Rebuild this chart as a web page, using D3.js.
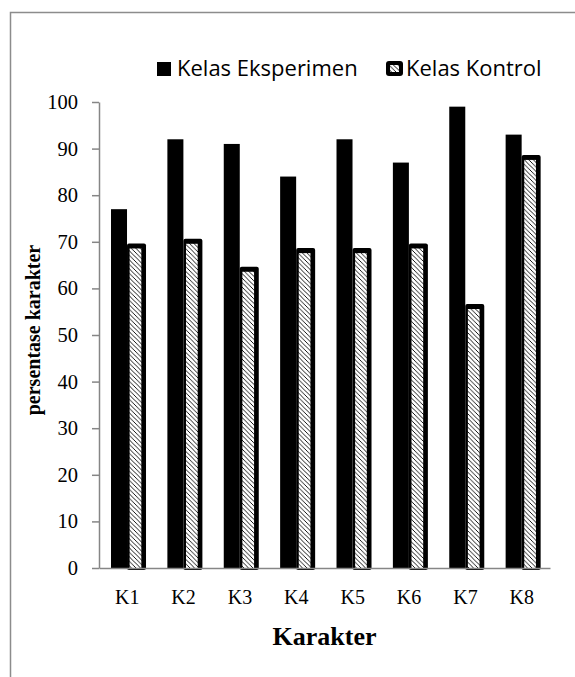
<!DOCTYPE html>
<html>
<head>
<meta charset="utf-8">
<script src="https://cdn.jsdelivr.net/npm/d3@7"></script>
<style>
  html, body { margin: 0; padding: 0; background: #fff; }
  svg { display: block; }
</style>
</head>
<body>
<svg id="chart" width="575" height="677"></svg>
<script>
const categories = ["K1", "K2", "K3", "K4", "K5", "K6", "K7", "K8"];
const eksperimen = [77, 92, 91, 84, 92, 87, 99, 93];
const kontrol = [69, 70, 64, 68, 68, 69, 56, 88];
const seriesNames = ["Kelas Eksperimen", "Kelas Kontrol"];
const yTicks = [0, 10, 20, 30, 40, 50, 60, 70, 80, 90, 100];
const xTitle = "Karakter";
const yTitle = "persentase karakter";

const svg = d3.select("#chart");
const serif = "'Liberation Serif', 'Times New Roman', serif";
const sans = "'Open Sans', 'Noto Sans', sans-serif";
const axisGray = "#868686";

// hatch pattern
const defs = svg.append("defs");
const pat = defs.append("pattern")
  .attr("id", "hatch").attr("patternUnits", "userSpaceOnUse")
  .attr("width", 4.5).attr("height", 4.5);
pat.append("rect").attr("width", 4.5).attr("height", 4.5).attr("fill", "#fff");
pat.append("path").attr("d", "M-1,-1 L5.5,5.5 M-1,3.5 L1,5.5 M3.5,-1 L5.5,1")
  .attr("stroke", "#000").attr("stroke-width", 1.1)
  .attr("shape-rendering", "crispEdges");

// frame
svg.append("path").attr("d", "M10.5,677 L10.5,12.5 L575,12.5")
  .attr("fill", "none").attr("stroke", "#8c8c8c").attr("stroke-width", 1.5);

const y = d3.scaleLinear().domain([0, 100]).range([568, 102]);
const x = d3.scaleBand().domain(categories).range([99, 550]).padding(0);
const bw = x.bandwidth();

// bars eksperimen
svg.append("g").selectAll("rect").data(categories).join("rect")
  .attr("x", (d) => x(d) + 0.213 * bw)
  .attr("width", 0.284 * bw)
  .attr("y", (d, i) => y(eksperimen[i]))
  .attr("height", (d, i) => y(0) - y(eksperimen[i]))
  .attr("fill", "#000");

// bars kontrol: outline + hatch
const kg = svg.append("g");
kg.selectAll("rect.out").data(categories).join("rect").attr("class", "out")
  .attr("x", (d) => x(d) + 0.497 * bw)
  .attr("width", 0.337 * bw)
  .attr("y", (d, i) => y(kontrol[i]) - 3)
  .attr("height", (d, i) => y(0) - y(kontrol[i]) + 5)
  .attr("rx", 2)
  .attr("fill", "#000");
kg.selectAll("rect.in").data(categories).join("rect").attr("class", "in")
  .attr("x", (d) => x(d) + 0.497 * bw + 2.6)
  .attr("width", 11.7)
  .attr("y", (d, i) => y(kontrol[i]) + 2)
  .attr("height", (d, i) => y(0) - y(kontrol[i]) - 2)
  .attr("fill", "url(#hatch)");

// y axis
const yAxis = svg.append("g").attr("transform", "translate(99,0)")
  .call(d3.axisLeft(y).tickValues(yTicks).tickSize(7).tickSizeOuter(0).tickPadding(14));
yAxis.attr("font-family", serif);
yAxis.select(".domain").attr("stroke", axisGray).attr("stroke-width", 1.5);
yAxis.selectAll(".tick line").attr("stroke", axisGray).attr("stroke-width", 1.5);
yAxis.selectAll(".tick text").attr("font-family", serif).attr("font-size", 20.5)
  .attr("fill", "#000");

// x axis
const xAxis = svg.append("g").attr("transform", "translate(0,568)")
  .call(d3.axisBottom(x).tickSize(0).tickSizeOuter(0));
xAxis.attr("font-family", serif);
xAxis.select(".domain").attr("stroke", axisGray).attr("stroke-width", 1.5);
xAxis.selectAll(".tick text").attr("font-family", serif).attr("font-size", 20)
  .attr("fill", "#000").attr("y", 36).attr("dy", 0);

// titles
svg.append("text").attr("x", (99 + 550) / 2).attr("y", 645)
  .attr("text-anchor", "middle").attr("font-family", serif)
  .attr("font-weight", "bold").attr("font-size", 26).text(xTitle);
svg.append("text").attr("transform", "translate(40,330) rotate(-90)")
  .attr("text-anchor", "middle").attr("font-family", serif)
  .attr("font-weight", "bold").attr("font-size", 20).text(yTitle);

// legend
const lg = svg.append("g");
lg.append("rect").attr("x", 157).attr("y", 62).attr("width", 14).attr("height", 14).attr("fill", "#000");
lg.append("text").attr("x", 177).attr("y", 76).attr("font-family", sans)
  .attr("font-size", 22).text(seriesNames[0]);
lg.append("rect").attr("x", 386).attr("y", 61).attr("width", 17).attr("height", 15).attr("rx", 3).attr("fill", "#000");
lg.append("rect").attr("x", 390).attr("y", 65).attr("width", 9).attr("height", 7).attr("fill", "url(#hatch)");
lg.append("text").attr("x", 406).attr("y", 76).attr("font-family", sans)
  .attr("font-size", 22).text(seriesNames[1]);
</script>
</body>
</html>
